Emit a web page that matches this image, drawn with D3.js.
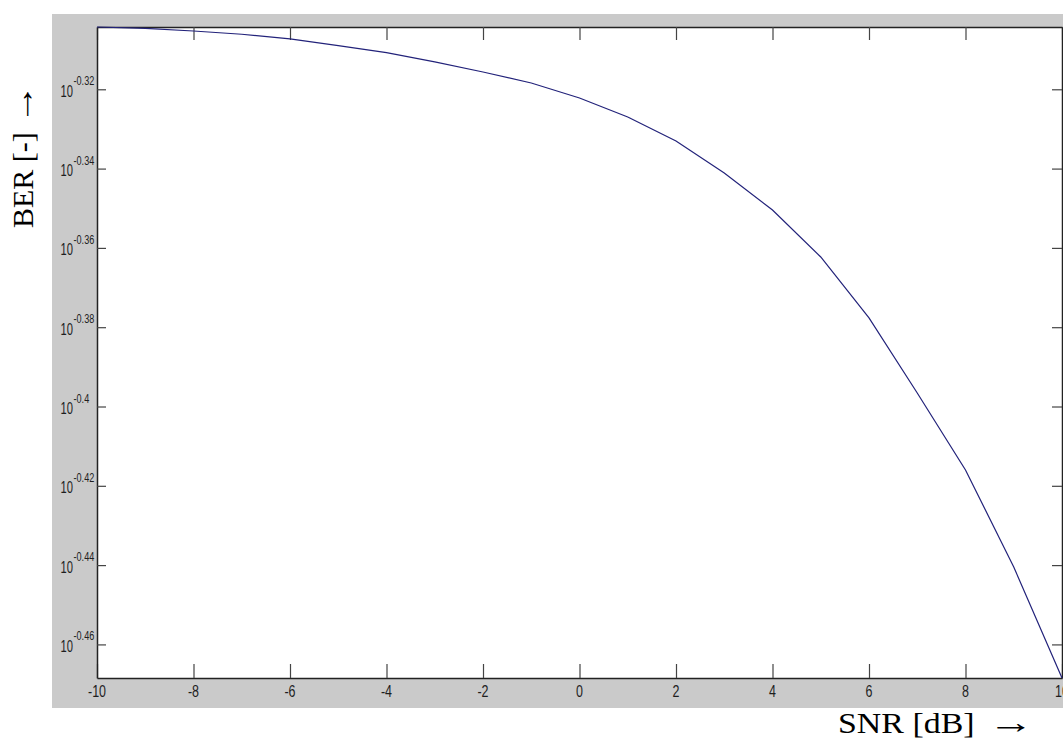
<!DOCTYPE html>
<html>
<head>
<meta charset="utf-8">
<script src="https://cdn.jsdelivr.net/npm/d3@7"></script>
<style>
  html, body { margin: 0; padding: 0; background: #ffffff; }
  svg { display: block; }
</style>
</head>
<body>
<div id="chart"></div>
<script>
// ---- data ----
const snrValues = [-10, -9, -8, -7, -6, -5, -4, -3, -2, -1, 0, 1, 2, 3, 4, 5, 6, 7, 8, 9, 10];
const berValues = [0.49626, 0.49589, 0.49511, 0.49417, 0.49283, 0.49091, 0.48891, 0.48630, 0.48346, 0.48039,
                   0.47622, 0.47099, 0.46447, 0.45592, 0.44623, 0.43422, 0.41911, 0.40125, 0.38370, 0.36268, 0.34004];
const xTickValues = [-10, -8, -6, -4, -2, 0, 2, 4, 6, 8, 10];
const yTickExponents = [-0.32, -0.34, -0.36, -0.38, -0.4, -0.42, -0.44, -0.46];
const xAxisTitle = "SNR [dB]";
const yAxisTitle = "BER [-]";
const arrowGlyph = "\u2192";

// ---- layout ----
const W = 1063, H = 743;
const plot = { left: 97, right: 1062, top: 27, bottom: 678 };

const svg = d3.select("#chart").append("svg")
  .attr("width", W).attr("height", H);

// grey figure background
svg.append("rect")
  .attr("x", 52).attr("y", 14)
  .attr("width", W - 52).attr("height", 708 - 14)
  .attr("fill", "#cacaca");

const x = d3.scaleLinear().domain([-10, 10]).range([plot.left, plot.right]);
const y = d3.scaleLog().domain([berValues[berValues.length - 1], berValues[0]]).range([plot.bottom, plot.top]);

// white axes area
svg.append("rect")
  .attr("x", plot.left).attr("y", plot.top)
  .attr("width", plot.right - plot.left).attr("height", plot.bottom - plot.top)
  .attr("fill", "#ffffff");

const tickCol = "#444";
const yTickVals = yTickExponents.map(e => Math.pow(10, e));

// bottom axis
const gx = svg.append("g").attr("transform", `translate(0,${plot.bottom})`)
  .call(d3.axisBottom(x).tickValues(xTickValues).tickSizeInner(-14).tickSizeOuter(0).tickFormat(""));
// top axis
const gxt = svg.append("g").attr("transform", `translate(0,${plot.top})`)
  .call(d3.axisTop(x).tickValues(xTickValues).tickSizeInner(-13).tickSizeOuter(0).tickFormat(""));
// left axis
const gy = svg.append("g").attr("transform", `translate(${plot.left},0)`)
  .call(d3.axisLeft(y).tickValues(yTickVals).tickSizeInner(-9).tickSizeOuter(0).tickFormat(""));
// right axis
const gyr = svg.append("g").attr("transform", `translate(${plot.right},0)`)
  .call(d3.axisRight(y).tickValues(yTickVals).tickSizeInner(-10).tickSizeOuter(0).tickFormat(""));

[gx, gxt, gy, gyr].forEach(g => {
  g.select(".domain").attr("stroke", "#222").attr("stroke-width", 1.5);
  g.selectAll(".tick line").attr("stroke", tickCol).attr("stroke-width", 1.2);
});

// x tick labels (condensed)
const labFont = "'Liberation Sans', Arial, sans-serif";
svg.append("g").selectAll("text").data(xTickValues).join("text")
  .attr("transform", d => `translate(${x(d)},697) scale(0.78,1)`)
  .attr("text-anchor", "middle")
  .attr("font-family", labFont).attr("font-size", 16)
  .attr("fill", "#1e1e1e")
  .text(d => d3.format("d")(d).replace("\u2212", "-"));

// y tick labels: 10^exp
const yl = svg.append("g").selectAll("g").data(yTickExponents).join("g")
  .attr("transform", e => `translate(0,${y(Math.pow(10, e))})`);
yl.append("text")
  .attr("transform", "translate(73,7.5) scale(0.7,1)")
  .attr("text-anchor", "end")
  .attr("font-family", labFont).attr("font-size", 16)
  .attr("fill", "#1e1e1e")
  .text("10");
yl.append("text")
  .attr("transform", "translate(73.5,-4) scale(0.76,1)")
  .attr("text-anchor", "start")
  .attr("font-family", labFont).attr("font-size", 12)
  .attr("fill", "#1e1e1e")
  .text(e => String(e));

// curve
const line = d3.line().x((d, i) => x(snrValues[i])).y(d => y(d));
svg.append("path")
  .datum(berValues)
  .attr("d", line)
  .attr("fill", "none")
  .attr("stroke", "#22227a")
  .attr("stroke-width", 1.2);

// axis titles (arrow drawn as a stretched glyph after the text)
const titleFont = "'Liberation Serif', 'Times New Roman', serif";
function title(transform, label, gap) {
  const g = svg.append("g").attr("transform", transform);
  const t = g.append("text")
    .attr("font-family", titleFont).attr("font-size", 30)
    .attr("fill", "#000").text(label);
  const len = t.node().getComputedTextLength();
  g.append("text")
    .attr("transform", `translate(${len + gap},0) scale(1.35,1.05)`)
    .attr("font-family", titleFont).attr("font-size", 30)
    .attr("fill", "#000").text(arrowGlyph);
}
title("translate(838,733) scale(1.13,1)", xAxisTitle, 12);
title("translate(33,228) rotate(-90)", yAxisTitle, 8);
</script>
</body>
</html>
